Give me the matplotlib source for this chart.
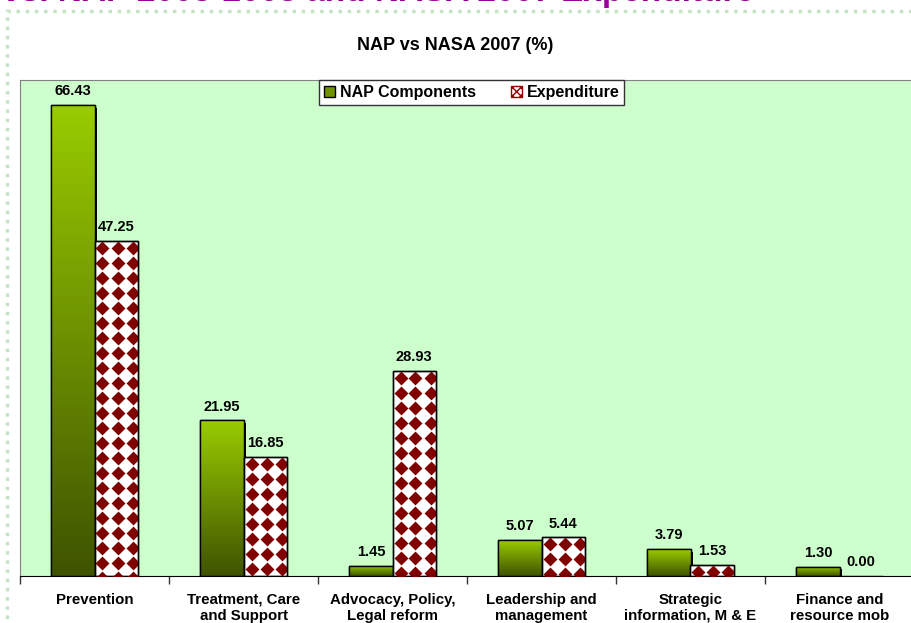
import numpy as np
import matplotlib
matplotlib.use('Agg')
import matplotlib.pyplot as plt
from matplotlib.patches import Rectangle, Patch
import matplotlib.patheffects as pe
from matplotlib.colors import LinearSegmentedColormap

categories = ["Prevention", "Treatment, Care\nand Support", "Advocacy, Policy,\nLegal reform",
              "Leadership and\nmanagement", "Strategic\ninformation, M & E", "Finance and\nresource mob"]
nap_components = [66.43, 21.95, 1.45, 5.07, 3.79, 1.30]
expenditure = [47.25, 16.85, 28.93, 5.44, 1.53, 0.00]
series_names = ["NAP Components", "Expenditure"]
chart_title = "NAP vs NASA 2007 (%)"
slide_title = "vs. NAP 2003-2008 and NASA 2007 Expenditure"

plt.rcParams['font.family'] = ['Liberation Sans', 'DejaVu Sans']
plt.rcParams['font.weight'] = 'bold'

W, H = 911, 623
fig = plt.figure(figsize=(W / 100, H / 100), dpi=100)
fig.patch.set_facecolor('white')

# slide title (cut off at top)
fig.text(2 / W, 1 - 1 / H, slide_title, ha='left', va='baseline', fontsize=24,
         fontweight='bold', color='#990099')

# dotted chart-area border
fig.add_artist(Rectangle((7 / W, -0.1), 2, (H - 11) / H + 0.1, transform=fig.transFigure,
                         fill=False, edgecolor='#c4e4c4', lw=2.5, linestyle=':'))

fig.text(455 / W, 1 - 45 / H, chart_title, ha='center', va='center', fontsize=13,
         fontweight='bold')

ax = fig.add_axes([20 / W, 47 / H, 894 / W, 496 / H])
ax.set_facecolor('#CCFFCC')
x = np.arange(len(categories))
bw = 0.29
xlim = (-0.5, len(categories) - 0.5)
ylim = (0, 70)
ax.set_xlim(*xlim)
ax.set_ylim(*ylim)

green_cmap = LinearSegmentedColormap.from_list('g', ['#3f5300', '#99CC00'])
grad = np.linspace(0, 1, 256).reshape(-1, 1)

bars_g = ax.bar(x - bw / 2, nap_components, bw, facecolor='#6f9400', edgecolor='black',
                lw=1, zorder=2,
                path_effects=[pe.SimplePatchShadow(offset=(1.8, -1.8), shadow_rgbFace='black',
                                                   alpha=1), pe.Normal()])
for b in bars_g:
    x0, y0, w, h = b.get_x(), b.get_y(), b.get_width(), b.get_height()
    im = ax.imshow(grad, extent=[x0, x0 + w, y0, y0 + h], origin='lower', cmap=green_cmap,
                   aspect='auto', zorder=2.1, interpolation='bilinear')
    im.set_clip_path(b)
    ax.add_patch(Rectangle((x0, y0), w, h, fill=False, edgecolor='black', lw=1, zorder=2.2))

bars_r = ax.bar(x + bw / 2, expenditure, bw, facecolor='white', edgecolor='black', lw=1,
                zorder=3)
ax.set_xlim(*xlim)
ax.set_ylim(*ylim)

to_px = ax.transData
inv = ax.transData.inverted()
for b in bars_r:
    if b.get_height() <= 0:
        continue
    px0, py0 = to_px.transform((b.get_x(), b.get_y()))
    px1, py1 = to_px.transform((b.get_x() + b.get_width(), b.get_y() + b.get_height()))
    xs = np.arange(px0 + 8, px1 + 8, 15)
    ys = np.arange(py1 - 7, py0 - 8, -15)
    X, Y = np.meshgrid(xs, ys)
    pts = inv.transform(np.column_stack([X.ravel(), Y.ravel()]))
    sc = ax.scatter(pts[:, 0], pts[:, 1], marker='D', s=50, c='#800000', linewidths=0,
                    zorder=3.1)
    sc.set_clip_path(b)
    ax.add_patch(Rectangle((b.get_x(), b.get_y()), b.get_width(), b.get_height(), fill=False,
                           edgecolor='black', lw=1, zorder=3.2))

for bars, vals in ((bars_g, nap_components), (bars_r, expenditure)):
    for b, v in zip(bars, vals):
        ax.annotate(f'{v:.2f}', (b.get_x() + b.get_width() / 2, v), xytext=(0, 5),
                    textcoords='offset points', ha='center', va='bottom', fontsize=10.5,
                    fontweight='bold')

ax.set_xticks(x)
ax.set_xticklabels(categories, fontsize=10.8, fontweight='bold')
ax.tick_params(axis='x', which='major', length=0, pad=12)
ax.set_xticks(np.arange(-0.5, len(categories)), minor=True)
ax.tick_params(axis='x', which='minor', length=6, color='#333333', width=1)
ax.set_yticks([])
ax.spines['left'].set_color('#808080')
ax.spines['top'].set_color('#808080')
ax.spines['right'].set_visible(False)
ax.spines['bottom'].set_color('black')

handles = [Patch(facecolor='#6f9400', edgecolor='black'),
           Patch(facecolor='white', edgecolor='#990000', hatch='xxxx')]
leg = ax.legend(handles, series_names, ncol=2, loc='upper center',
                bbox_to_anchor=((471.5 - 20) / 894, 1.0), frameon=True, fancybox=False,
                edgecolor='#333333', framealpha=1, borderaxespad=0, handlelength=0.7,
                handleheight=0.7, handletextpad=0.3, columnspacing=2.2,
                prop={'weight': 'bold', 'size': 11.5}, borderpad=0.3)
leg.set_zorder(10)
leg.get_frame().set_linewidth(1)

fig.savefig('out.png', dpi=100)
